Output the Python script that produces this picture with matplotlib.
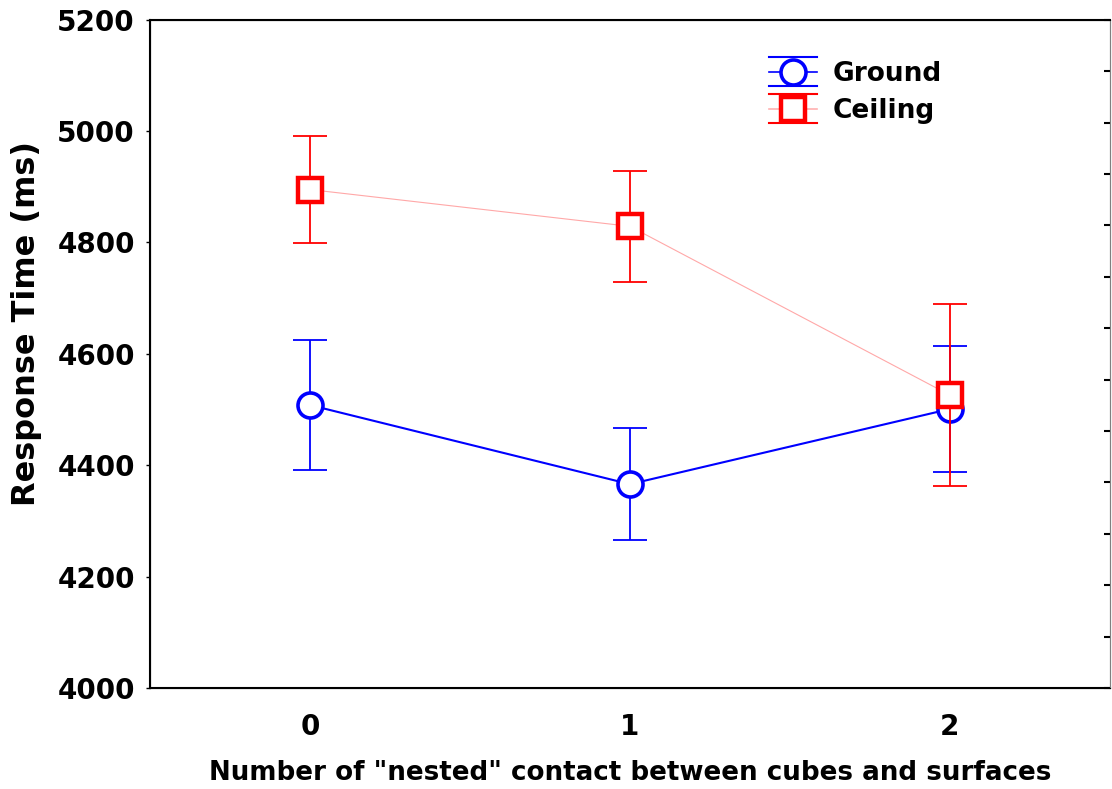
import matplotlib.pyplot as plt
import numpy as np
from matplotlib.lines import Line2D
from matplotlib.legend_handler import HandlerBase

# data
contacts = [0, 1, 2]
ground = [4508, 4366, 4501]
ground_err = [117, 101, 114]
ceiling = [4895, 4829, 4526]
ceiling_err = [96, 100, 163]

plt.rcParams['font.family'] = 'DejaVu Sans'
plt.rcParams['font.weight'] = 'bold'


class ErrHandler(HandlerBase):
    # legend key drawn Statistica style: cap line, marker line, cap line
    def __init__(self, midcolor, off=10.5):
        super().__init__()
        self.midcolor = midcolor
        self.off = off

    def create_artists(self, legend, orig_handle, xdescent, ydescent,
                       width, height, fontsize, trans):
        c = orig_handle.get_color()
        y = (height - ydescent) / 2
        x0, x1 = -xdescent, -xdescent + width
        arts = []
        for dy, col, lw in [(self.off, c, 1.5), (0, self.midcolor, 1.2), (-self.off, c, 1.5)]:
            arts.append(Line2D([x0, x1], [y + dy, y + dy], color=col, lw=lw, transform=trans))
        m = Line2D([(x0 + x1) / 2], [y], marker=orig_handle.get_marker(), ls='none',
                   ms=orig_handle.get_markersize(), mew=orig_handle.get_markeredgewidth(),
                   mec=c, mfc='white', transform=trans)
        arts.append(m)
        return arts


fig = plt.figure(figsize=(11.12, 7.89), dpi=100)
ax = fig.add_axes([0.135, 0.128, 0.863, 0.847])

# ground series
ax.errorbar(contacts, ground, yerr=ground_err, fmt='none', ecolor='blue',
            elinewidth=1.3, capsize=12, capthick=1.3, zorder=2)
ax.plot(contacts, ground, color='blue', lw=1.5, marker='o', ms=18, mew=2.6,
        mfc='white', mec='blue', zorder=2.5)

# ceiling series: faint connecting line, bold markers
ax.plot(contacts, ceiling, color='#ffa8a8', lw=0.8, zorder=3)
ax.errorbar(contacts, ceiling, yerr=ceiling_err, fmt='none', ecolor='red',
            elinewidth=1.3, capsize=12, capthick=1.3, zorder=3.2)
ax.plot(contacts, ceiling, ls='none', marker='s', ms=17.5, mew=3.2,
        mfc='white', mec='red', zorder=3.5)

ax.set_xlim(-0.5, 2.5)
ax.set_ylim(4000, 5200)
ax.set_xticks(contacts)
ax.set_yticks(np.arange(4000, 5201, 200))
ax.tick_params(axis='both', labelsize=20, direction='out', length=3, width=1)
ax.tick_params(axis='y', pad=8)
ax.tick_params(axis='x', length=0, pad=18)
for lab in ax.get_xticklabels() + ax.get_yticklabels():
    lab.set_fontweight('bold')

# small inward ticks on the right spine
ax2 = ax.twinx()
ax2.set_ylim(4000, 5200)
ax2.set_yticks(np.linspace(4000, 5200, 14))
ax2.set_yticklabels([])
ax2.tick_params(axis='y', direction='in', length=4, width=1.5)
ax2.spines['right'].set_color('0.5')

for s in ['left', 'top', 'bottom']:
    ax.spines[s].set_linewidth(1.5)
ax.spines['right'].set_color('0.5')

ax.set_xlabel('Number of "nested" contact between cubes and surfaces',
              fontsize=18.8, fontweight='bold', labelpad=14)
ax.set_ylabel('Response Time (ms)', fontsize=23, fontweight='bold')
ax.yaxis.set_label_coords(-0.113, 0.545)

h_g = Line2D([], [], color='blue', marker='o', ms=18, mew=2.6)
h_c = Line2D([], [], color='red', marker='s', ms=17.5, mew=3.2)
ax.legend([h_g, h_c], ['Ground', 'Ceiling'], loc='upper left',
          bbox_to_anchor=(769 / 1112, 1 - 61 / 789), bbox_transform=fig.transFigure,
          frameon=False, borderpad=0, borderaxespad=0,
          prop={'size': 19, 'weight': 'bold'}, handlelength=1.8,
          handletextpad=0.6, labelspacing=0.42,
          handler_map={h_g: ErrHandler('blue'), h_c: ErrHandler('#ffb0b0')})

fig.savefig('out.png', dpi=100)
